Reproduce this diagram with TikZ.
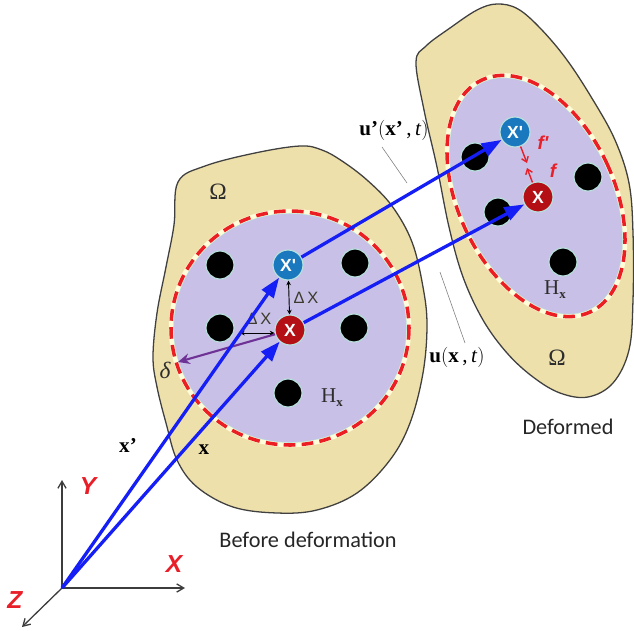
\documentclass[tikz,border=0pt]{standalone}
\usepackage{fontspec}
\setmainfont{Liberation Serif}
\newfontfamily\arialf{Liberation Sans}
\newfontfamily\calibf{Carlito}
\usetikzlibrary{arrows.meta}
\definecolor{bodyY}{RGB}{238,224,170}
\definecolor{lav}{RGB}{200,192,230}
\definecolor{halo}{RGB}{185,225,222}
\definecolor{redd}{RGB}{235,30,35}
\definecolor{blu}{RGB}{20,30,245}
\definecolor{xpb}{RGB}{25,120,190}
\definecolor{xr}{RGB}{180,15,20}
\definecolor{axg}{RGB}{60,60,60}
\definecolor{purp}{RGB}{110,50,150}
\definecolor{lblred}{RGB}{232,30,40}
\definecolor{dtext}{RGB}{45,45,45}
\begin{document}
\begin{tikzpicture}[x=0.03cm,y=-0.03cm,
  blob/.style={fill=bodyY, draw=black!75, line width=1.1pt},
  nbhd/.style={fill=lav, draw=halo, line width=1.5pt},
  whitering/.style={draw=white!85!yellow, line width=3.8pt},
  dashring/.style={draw=redd, line width=3pt, dash pattern=on 0.35cm off 0.19cm},
  dot/.style={circle, fill=black, draw=halo, line width=1pt, minimum size=0.84cm, inner sep=0pt},
  ptXp/.style={circle, fill=xpb, draw=halo, line width=1pt, minimum size=0.9cm, inner sep=0pt, text=white, font=\arialf\bfseries\fontsize{15}{15}\selectfont},
  ptX/.style={ptXp, fill=xr},
  vec/.style={draw=blu, line width=2.8pt, -{Triangle[length=17pt,width=12pt]}},
  axis/.style={draw=axg, line width=1.1pt, -{Straight Barb[length=6pt,width=7pt]}},
  axlbl/.style={text=lblred, font=\arialf\bfseries\itshape\fontsize{21}{21}\selectfont},
  serlbl/.style={text=dtext, font=\fontsize{18}{18}\selectfont},
  dlbl/.style={text=black!75!olive, font=\arialf\fontsize{14}{14}\selectfont},
  flbl/.style={text=lblred, font=\arialf\bfseries\itshape\fontsize{16}{16}\selectfont},
  farrow/.style={draw=lblred, line width=1.2pt, -{Straight Barb[length=4pt,width=6pt]}},
  darrow/.style={draw=black, line width=0.8pt, {Stealth[length=4pt,width=4pt]}-{Stealth[length=4pt,width=4pt]}},
  leader/.style={draw=gray, line width=0.5pt},
  caption/.style={text=black!85, font=\calibf\fontsize{19}{19}\selectfont}
]
\useasboundingbox (0,0) rectangle (634,630);

% bodies
\draw[blob] plot[smooth cycle, tension=0.6] coordinates {(178,182) (205,166) (255,153) (300,146) (322,150) (342,161) (367,180) (392,206) (412,242) (423,287) (427,325) (423,373) (410,423) (390,460) (357,493) (317,510) (277,513) (233,507) (197,487) (177,460) (166,423) (157,387) (153,357) (157,313) (166,267) (174,225)};
\draw[blob] plot[smooth cycle, tension=0.6] coordinates {(416,62) (426,46) (450,28) (477,10) (497,4) (518,9) (541,29) (567,60) (593,100) (615,140) (629,183) (633,233) (633,300) (629,350) (613,383) (588,397) (560,393) (533,377) (507,353) (483,320) (463,277) (449,227) (437,167) (424,110)};

% neighbourhoods
\draw[nbhd] (290,328) ellipse [x radius=117, y radius=115];
\draw[whitering] (290,328) ellipse [x radius=119, y radius=117];
\draw[dashring] (290,328) ellipse [x radius=119, y radius=117];
\draw[nbhd] (536,196) ellipse [x radius=76, y radius=126, rotate=25];
\draw[whitering] (536,196) ellipse [x radius=78, y radius=128, rotate=25];
\draw[dashring] (536,196) ellipse [x radius=78, y radius=128, rotate=25];

% family dots
\node[dot] (d1) at (220,265) {};
\node[dot] (d2) at (355,263) {};
\node[dot] (d3) at (220,328) {};
\node[dot] (d4) at (354,328) {};
\node[dot] (d5) at (288,393) {};
\node[dot] (e1) at (475,157) {};
\node[dot] (e2) at (498,212) {};
\node[dot] (e3) at (588,177) {};
\node[dot] (e4) at (563,262) {};

% material points
\node[ptXp] (Xp1) at (288,265) {X'};
\node[ptX]  (X1)  at (290,330) {X};
\node[ptXp] (Xp2) at (515,132) {X'};
\node[ptX]  (X2)  at (538,197) {X};

% axes
\coordinate (O) at (62,588);
\coordinate (Yt) at (62,480);
\coordinate (Xt) at (185,588);
\coordinate (Zt) at (22,627);
\draw[axis] (O) -- (Yt);
\draw[axis] (O) -- (Xt);
\draw[axis] (O) -- (Zt);
\node[axlbl] (ylab) at (88,486) {Y};
\node[axlbl] (xlab) at (174,564) {X};
\node[axlbl] (zlab) at (15,600) {Z};

% leader lines
\coordinate (l1a) at (382,147);
\coordinate (l1b) at (407,183);
\coordinate (l2a) at (440,272);
\coordinate (l2b) at (465,343);
\draw[leader] (l1a) -- (l1b);
\draw[leader] (l2a) -- (l2b);

% horizon arrow
\coordinate (dtip) at (178,362);
\draw[draw=purp, line width=1.8pt, -{Stealth[length=10pt,width=9pt]}] (X1) -- (dtip);

% Delta X arrows
\coordinate (hst) at (240,333);
\draw[darrow] (Xp1) -- (X1);
\draw[darrow] (hst) -- (X1.west |- hst);
\node[dlbl] (dx1) at (306,298) {Δ\,X};
\node[dlbl] (dx2) at (259,319) {Δ\,X};

% position and displacement vectors
\draw[vec] (O) -- (Xp1);
\draw[vec] (O) -- (X1);
\draw[vec] (Xp1) -- (Xp2);
\draw[vec] (X1) -- (X2);

% forces
\coordinate (fa) at (527,163);
\coordinate (fb) at (527,168);
\draw[farrow] (Xp2) -- (fa);
\draw[farrow] (X2) -- (fb);
\node[flbl] (fplab) at (543,143) {f'};
\node[flbl] (flab) at (553,171) {f};

% labels
\node[serlbl, font=\fontsize{20}{20}\selectfont] (om1) at (218,192) {Ω};
\node[serlbl, font=\fontsize{20}{20}\selectfont] (om2) at (557,358) {Ω};
\node[serlbl] (hx1) at (332,398) {H\raisebox{-0.4ex}{\fontsize{11}{11}\selectfont\bfseries x}};
\node[serlbl] (hx2) at (555,290) {H\raisebox{-0.4ex}{\fontsize{11}{11}\selectfont\bfseries x}};
\node[serlbl, font=\itshape\fontsize{20}{20}\selectfont] (del) at (165,370) {δ};
\node[serlbl, text=black] (xplab) at (128,445) {\textbf{x'}};
\node[serlbl, text=black] (xlab2) at (204,450) {\textbf{x}};
\node[serlbl, text=black] (uplab) at (394,130) {\textbf{u'}$\Bigl($\textbf{x'}\,,\,\textit{t}$\Bigr)$};
\node[serlbl, text=black] (ulab) at (457,357) {\textbf{u}$\Bigl($\textbf{x}\,,\,\textit{t}$\Bigr)$};
\node[caption] (cap1) at (308,540) {Before deformation};
\node[caption] (cap2) at (568,427) {Deformed};
\end{tikzpicture}
\end{document}
